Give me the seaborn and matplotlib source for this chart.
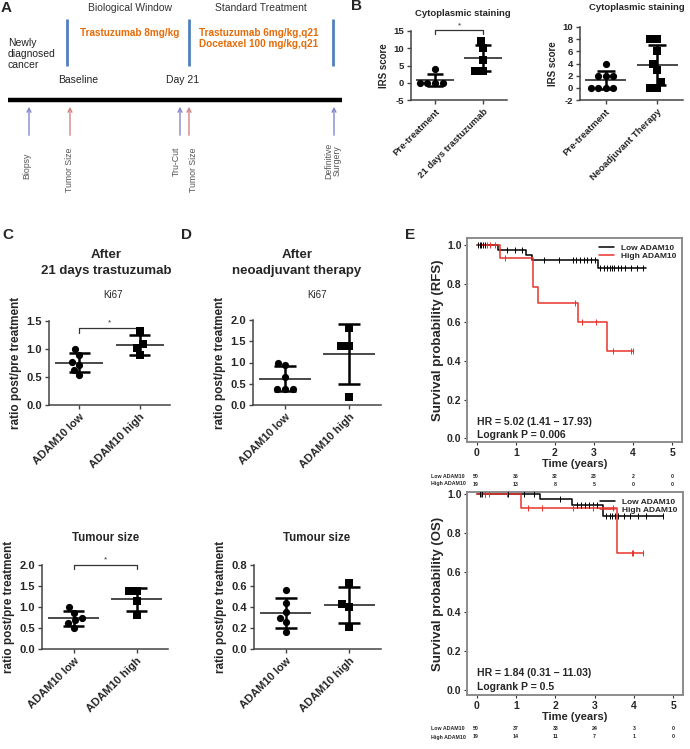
import numpy as np
import pandas as pd
import matplotlib
matplotlib.use('Agg')
import matplotlib.pyplot as plt
import seaborn as sns

# ---- Panel A (timeline schematic, positions in figure pixels) ----
a_phases = ['Biological Window', 'Standard Treatment']
a_phase_x = [130, 261]
a_boundaries = [67, 189, 333]
a_markers = ['Baseline', 'Day 21']
a_marker_x = [78, 183]
a_events = ['Biopsy', 'Tumor Size', 'Tru-Cut', 'Tumor Size', 'Definitive\nSurgery']
a_event_x = [29, 70, 180, 189, 334]
a_label_x = [27, 70, 176, 194, 333]
a_label_y = [166, 170, 161, 170, 161]
a_event_kind = ['sample', 'size', 'sample', 'size', 'sample']

# ---- Panel B ----
b1_groups = ['Pre-treatment', '21 days trastuzumab']
b1_pre = [4, 0, 0, 0, 0]
b1_post = [12, 10, 6.5, 3.5, 3.5]
b2_groups = ['Pre-treatment', 'Neoadjuvant Therapy']
b2_pre = [4, 2, 2, 2, 0, 0, 0, 0]
b2_post = [8, 8, 6, 4, 3, 1, 0, 0]

# ---- Panels C / D ----
adam_groups = ['ADAM10 low', 'ADAM10 high']
c_ki67_low = [1.0, 0.89, 0.76, 0.72, 0.63, 0.54]
c_ki67_high = [1.32, 1.09, 1.01, 0.89]
c_size_low = [1.0, 0.86, 0.74, 0.69, 0.61, 0.49]
c_size_high = [1.39, 1.39, 1.14, 0.82]
d_ki67_low = [1.0, 0.93, 0.65, 0.37, 0.37, 0.37]
d_ki67_high = [1.81, 1.40, 1.40, 0.19]
d_size_low = [0.56, 0.435, 0.35, 0.30, 0.254, 0.162]
d_size_high = [0.63, 0.43, 0.40, 0.21]

# ---- Panel E (Kaplan-Meier steps and censor times) ----
rfs_low_t = [0, 0.55, 1.25, 1.42, 3.09, 4.32]
rfs_low_s = [1.0, 0.975, 0.95, 0.92, 0.88, 0.88]
rfs_low_cens = [0.04, 0.08, 0.12, 0.16, 0.2, 0.77, 0.98, 1.15, 1.73, 2.1, 2.47, 2.55, 2.65,
                2.74, 2.83, 2.93, 3.02, 3.15, 3.25, 3.33, 3.4, 3.45, 3.5, 3.6, 3.7, 3.8,
                3.95, 4.1, 4.25]
rfs_high_t = [0, 0.6, 1.43, 1.56, 2.6, 3.33, 4.0]
rfs_high_s = [1.0, 0.933, 0.78, 0.70, 0.60, 0.45, 0.45]
rfs_high_cens = [0.25, 0.35, 0.47, 0.72, 2.51, 2.7, 3.06, 3.49, 3.95, 4.0]

os_low_t = [0, 1.61, 2.42, 3.22, 4.75]
os_low_s = [1.0, 0.975, 0.945, 0.89, 0.89]
os_low_cens = [0.08, 0.12, 0.2, 0.8, 1.2, 1.45, 2.12, 2.55, 2.65, 2.75, 2.85, 2.95, 3.05,
               3.3, 3.38, 3.45, 3.52, 3.6, 3.75, 3.9, 4.1, 4.3, 4.75]
os_high_t = [0, 1.13, 3.58, 4.22]
os_high_s = [1.0, 0.93, 0.70, 0.70]
os_high_cens = [0.1, 0.2, 0.3, 0.76, 1.31, 1.65, 2.46, 2.97, 3.47, 3.94, 3.98, 4.22]

years = [0, 1, 2, 3, 4, 5]
rfs_risk_low = [50, 36, 32, 23, 2, 0]
rfs_risk_high = [19, 13, 8, 5, 0, 0]
os_risk_low = [50, 37, 33, 24, 3, 0]
os_risk_high = [19, 14, 11, 7, 1, 0]

sns.set_theme(style='ticks')
plt.rcParams['font.family'] = ['Liberation Sans', 'DejaVu Sans']

W, H = 690, 749
fig = plt.figure(figsize=(W / 100, H / 100), dpi=100)


def px_axes(x0, y0, x1, y1):
    return fig.add_axes([x0 / W, 1 - y1 / H, (x1 - x0) / W, (y1 - y0) / H])


def ftext(x, y, s, **kw):
    kw.setdefault('ha', 'center')
    kw.setdefault('va', 'center')
    fig.text(x / W, 1 - y / H, s, **kw)


# ---------------- Panel A ----------------
ax_a = px_axes(0, 0, 350, 200)
ax_a.set_xlim(0, 350)
ax_a.set_ylim(200, 0)
ax_a.axis('off')
blue, orange = '#4f81bd', '#e46c0a'
for x, s in zip(a_phase_x, a_phases):
    ax_a.text(x, 8, s, ha='center', va='center', fontsize=7.5, color='#333333')
ax_a.vlines(a_boundaries, 19, 66, color=blue, lw=2)
ax_a.text(130, 33, 'Trastuzumab 8mg/kg', ha='center', va='center', fontsize=7.2,
          fontweight='bold', color=orange)
ax_a.text(199, 38.5, 'Trastuzumab 6mg/kg,q21\nDocetaxel 100 mg/kg,q21', ha='left',
          va='center', fontsize=7.2, fontweight='bold', color=orange, linespacing=1.05)
ax_a.text(8, 54, 'Newly\ndiagnosed\ncancer', ha='left', va='center', fontsize=7.5,
          color='#222222', linespacing=1.1)
for x, s in zip(a_marker_x, a_markers):
    ax_a.text(x, 80, s, ha='center', va='center', fontsize=7.5, color='#222222')
ax_a.plot([8, 342], [100, 100], color='black', lw=3.2, solid_capstyle='butt')
for x, lx, ly, s, k in zip(a_event_x, a_label_x, a_label_y, a_events, a_event_kind):
    c = '#8585cc' if k == 'sample' else '#d08585'
    ax_a.annotate('', xy=(x, 104), xytext=(x, 138),
                  arrowprops=dict(arrowstyle='->', color=c, lw=1, mutation_scale=7))
    ax_a.text(lx, ly, s, rotation=90, ha='center', va='center', fontsize=6.3,
              color='#555555', linespacing=1.0)

# ---------------- dot plot helper ----------------
def dot_plot(ax, groups, low, high, ylim, yticks, fmt, fs, sig=None):
    df = pd.DataFrame({'group': [groups[0]] * len(low) + [groups[1]] * len(high),
                       'value': low + high})
    for g, m in zip(groups, ['o', 's']):
        sns.swarmplot(data=df[df.group == g], x='group', y='value', order=groups,
                      marker=m, color='black', size=5.2, ax=ax, clip_on=False, zorder=5)
    stats = df.groupby('group')['value'].agg(['mean', 'std']).reindex(groups)
    for i, (mu, sd) in enumerate(stats.itertuples(index=False)):
        ax.hlines(mu, i - 0.4, i + 0.4, color='#3a3a3a', lw=1.3, zorder=3)
        ax.vlines(i, mu - sd, mu + sd, color='black', lw=1.8, zorder=4)
        ax.hlines([mu - sd, mu + sd], i - 0.17, i + 0.17, color='black', lw=1.8, zorder=4)
    ax.set_xlim(-0.5, 1.5)
    ax.set_ylim(*ylim)
    ax.set_yticks(yticks)
    ax.set_yticklabels([fmt.format(v) for v in yticks], fontsize=fs, fontweight='bold')
    ax.set_xticks([0, 1])
    ax.set_xticklabels(groups, rotation=45, ha='right', rotation_mode='anchor',
                       fontsize=fs, fontweight='bold')
    ax.set_xlabel('')
    sns.despine(ax=ax)
    for sp in ['left', 'bottom']:
        ax.spines[sp].set_color('#444444')
        ax.spines[sp].set_linewidth(1.1)
    ax.tick_params(length=3, width=1, color='#444444', pad=2)
    ax.set_facecolor('none')
    if sig is not None:
        y, d = sig
        ax.plot([0, 0, 1, 1], [y - d, y, y, y - d], color='#333333', lw=0.9, clip_on=False)
        ax.text(0.5, y + d * 0.3, '*', ha='center', va='bottom', fontsize=6, color='#333333')


# ---------------- Panel B ----------------
ax_b1 = px_axes(411, 31, 507, 100)
dot_plot(ax_b1, b1_groups, b1_pre, b1_post, (-5, 15), [-5, 0, 5, 10, 15], '{:d}', 6.8,
         sig=(15.2, 1.2))
ax_b1.set_ylabel('IRS score', fontsize=7, fontweight='bold', labelpad=3)
ax_b2 = px_axes(580, 27, 683, 100)
dot_plot(ax_b2, b2_groups, b2_pre, b2_post, (-2, 10), [-2, 0, 2, 4, 6, 8, 10], '{:d}', 6.8)
ax_b2.set_ylabel('IRS score', fontsize=7, fontweight='bold', labelpad=3)
ftext(463, 13, 'Cytoplasmic staining', fontsize=6.8, fontweight='bold')
ftext(637, 8, 'Cytoplasmic staining', fontsize=6.8, fontweight='bold')

# ---------------- Panels C / D ----------------
ylab = 'ratio post/pre treatment'
ax_c1 = px_axes(49, 321, 170, 405)
dot_plot(ax_c1, adam_groups, c_ki67_low, c_ki67_high, (0, 1.5), [0, 0.5, 1.0, 1.5],
         '{:.1f}', 8, sig=(1.38, 0.09))
ax_c2 = px_axes(42, 565, 168, 649)
dot_plot(ax_c2, adam_groups, c_size_low, c_size_high, (0, 2), [0, 0.5, 1.0, 1.5, 2.0],
         '{:.1f}', 8, sig=(2.0, 0.1))
ax_d1 = px_axes(253, 320, 381, 405)
dot_plot(ax_d1, adam_groups, d_ki67_low, d_ki67_high, (0, 2), [0, 0.5, 1.0, 1.5, 2.0],
         '{:.1f}', 8)
ax_d2 = px_axes(254, 565, 381, 649)
dot_plot(ax_d2, adam_groups, d_size_low, d_size_high, (0, 0.8), [0, 0.2, 0.4, 0.6, 0.8],
         '{:.1f}', 8)
for ax in [ax_c1, ax_c2, ax_d1, ax_d2]:
    ax.set_ylabel(ylab, fontsize=8.5, fontweight='bold', labelpad=3)

ftext(106, 263, 'After\n21 days trastuzumab', fontsize=9.5, fontweight='bold',
      linespacing=1.4)
ftext(297, 263, 'After\nneoadjuvant therapy', fontsize=9.5, fontweight='bold',
      linespacing=1.4)
ftext(113, 295, 'Ki67', fontsize=7)
ftext(317, 295, 'Ki67', fontsize=7)
ftext(106, 538, 'Tumour size', fontsize=8.3, fontweight='bold')
ftext(317, 538, 'Tumour size', fontsize=8.3, fontweight='bold')

# ---------------- Panel E ----------------
def km_panel(ax, curves, ylabel, hr, pval, risk_low, risk_high, hr_y):
    for t, s, cens, color, label in curves:
        sns.lineplot(x=t, y=s, drawstyle='steps-post', color=color, lw=1.1, ax=ax,
                     label=label, estimator=None, sort=False)
        cs = np.asarray(s)[np.searchsorted(t, cens, side='right') - 1]
        ax.scatter(cens, cs, marker='|', s=22, color=color, linewidths=0.7, zorder=4)
    ax.set_xlim(-0.25, 5.25)
    ax.set_xticks(years)
    ax.set_xticklabels([str(v) for v in years], fontsize=7.5, fontweight='bold')
    yt = [0, 0.2, 0.4, 0.6, 0.8, 1.0]
    ax.set_yticks(yt)
    ax.set_yticklabels(['{:.1f}'.format(v) for v in yt], fontsize=7.5, fontweight='bold')
    ax.set_ylabel(ylabel, fontsize=9.5, fontweight='bold', labelpad=2)
    ax.set_xlabel('Time (years)', fontsize=8, fontweight='bold', labelpad=1)
    for sp in ax.spines.values():
        sp.set_color('#8c8c8c')
        sp.set_linewidth(1.4)
    ax.tick_params(length=2.5, width=0.8, color='#333333', pad=1.5)
    ax.legend(loc='upper right', frameon=False, prop={'size': 6, 'weight': 'bold'},
              handlelength=1.8, borderaxespad=0.3, labelspacing=0.1)
    tr = ax.get_xaxis_transform()
    ax.text(0, hr_y[0], hr, transform=tr, fontsize=7.5, fontweight='bold', va='center')
    ax.text(0, hr_y[1], pval, transform=tr, fontsize=7.5, fontweight='bold', va='center')
    for row, vals, off in [('Low ADAM10', risk_low, -34), ('High ADAM10', risk_high, -42)]:
        ax.annotate(row, xy=(0, 0), xycoords=('data', 'axes fraction'),
                    xytext=(-46 * 0.72, off * 0.72), textcoords='offset points',
                    ha='left', va='center', fontsize=3.8, fontweight='bold',
                    annotation_clip=False)
        for x, v in zip(years, vals):
            ax.annotate(str(v), xy=(x, 0), xycoords=('data', 'axes fraction'),
                        xytext=(-1 if x == 0 else 0, off * 0.72), textcoords='offset points',
                        ha='center', va='center', fontsize=3.8, fontweight='bold',
                        annotation_clip=False)


ax_e1 = px_axes(467, 238, 682, 442)
ax_e1.set_ylim(-0.02, 1.036)
km_panel(ax_e1, [(rfs_low_t, rfs_low_s, rfs_low_cens, 'black', 'Low ADAM10'),
                 (rfs_high_t, rfs_high_s, rfs_high_cens, '#e8332b', 'High ADAM10')],
         'Survival probability (RFS)', 'HR = 5.02 (1.41 \u2212 17.93)', 'Logrank P = 0.006',
         rfs_risk_low, rfs_risk_high, (0.098, 0.034))
ax_e2 = px_axes(467, 492, 683, 695)
ax_e2.set_ylim(-0.026, 1.01)
km_panel(ax_e2, [(os_low_t, os_low_s, os_low_cens, 'black', 'Low ADAM10'),
                 (os_high_t, os_high_s, os_high_cens, '#e8332b', 'High ADAM10')],
         'Survival probability (OS)', 'HR = 1.84 (0.31 \u2212 11.03)', 'Logrank P = 0.5',
         os_risk_low, os_risk_high, (0.108, 0.039))

# panel letters
for s, x, y in [('A', 6, 8), ('B', 356, 6), ('C', 8, 235), ('D', 186, 235), ('E', 410, 235)]:
    ftext(x, y, s, fontsize=11, fontweight='bold')

fig.savefig('out.png', dpi=100)
